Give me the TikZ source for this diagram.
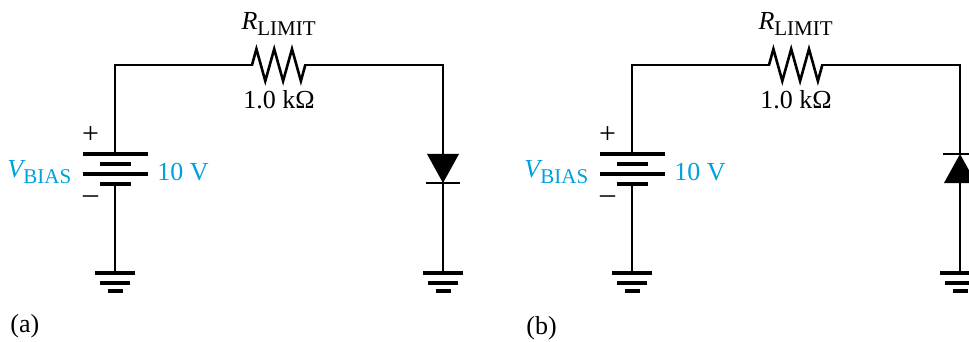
\documentclass[tikz,border=0pt]{standalone}
\usepackage{fontspec}
\setmainfont{Liberation Serif}
\usepackage{tikz}

\definecolor{bluBias}{RGB}{0,160,222}
\newcommand{\pedice}[1]{\raisebox{-3.2pt}{\fontsize{10.5pt}{12pt}\selectfont #1}}

\tikzset{
	filo/.style={line width=1pt, line cap=rect},
	zigzag/.style={line width=1.3pt, line join=miter},
	piastra/.style={line width=2pt},
	barra/.style={line width=1.4pt},
	massa/.style={line width=2pt},
	etichetta/.style={font=\fontsize{13pt}{15pt}\selectfont, inner sep=0pt},
	segno/.style={font=\fontsize{15pt}{17pt}\selectfont, inner sep=0pt},
}

\begin{document}
\begin{tikzpicture}[x=0.5pt, y=-0.5pt]
		\clip (0,0) rectangle (969,342);
		
		% Circuito (a): nodi
		\coordinate (A-R1) at (252,65);
		\coordinate (A-R2) at (305.3,65);
		\coordinate (A-Piu) at (115,154);
		\coordinate (A-Meno) at (115,184);
		\coordinate (A-MassaSx) at (115,273);
		\coordinate (A-Anodo) at (443,154);
		\coordinate (A-Catodo) at (443,183);
		\coordinate (A-MassaDx) at (443,273);
		
		% Circuito (a): collegamenti
		\draw[filo] (A-Piu) |- (A-R1);
		\draw[filo] (A-R2) -| (A-Anodo);
		\draw[filo] (A-Meno) -- (A-MassaSx);
		\draw[filo] (A-Catodo) -- (A-MassaDx);
		
		% Circuito (a): componenti
		\draw[zigzag] (A-R1) -- ++(4.4,-16) -- ++(8.9,32) -- ++(8.9,-32) -- ++(8.9,32) -- ++(8.9,-32) -- ++(8.9,32) -- (A-R2);
		\draw[piastra] (A-Piu) ++(-32.5,0) -- ++(65,0) ++(-48,10) -- ++(31,0) ++(-48,10) -- ++(65,0) ++(-48,10) -- ++(31,0);
		\fill (A-Anodo) ++(-16,0) -- ++(32,0) -- (A-Catodo) -- cycle;
		\draw[barra] (A-Catodo) ++(-17,0) -- ++(34,0);
		\draw[massa] (A-MassaSx) ++(-20,0) -- ++(40,0) ++(-35,9.5) -- ++(30,0) ++(-22.5,8.5) -- ++(15,0);
		\draw[massa] (A-MassaDx) ++(-20,0) -- ++(40,0) ++(-35,9.5) -- ++(30,0) ++(-22.5,8.5) -- ++(15,0);
		
		% Circuito (a): etichette
		\node[etichetta, anchor=base] (A-NomeR) at (278.6,29.5) {{\itshape R}\pedice{LIMIT}};
		\node[etichetta, anchor=base] (A-ValoreR) at (279,109) {1.0 kΩ};
		\node[etichetta, anchor=base west, text=bluBias] (A-ValoreV) at (157,180) {10 V};
		\node[etichetta, anchor=base east, text=bluBias] (A-NomeV) at (71.6,177) {{\itshape V}\pedice{BIAS}};
		\node[segno] (A-SegnoPiu) at (90.7,135) {+};
		\node[segno] (A-SegnoMeno) at (90.7,200) {–};
		\node[etichetta, anchor=west] (A-Titolo) at (10,326) {(a)};
		
		% Circuito (b): nodi
		\coordinate (B-R1) at (769,65);
		\coordinate (B-R2) at (822.3,65);
		\coordinate (B-Piu) at (632,154);
		\coordinate (B-Meno) at (632,184);
		\coordinate (B-MassaSx) at (632,273);
		\coordinate (B-Catodo) at (960,154);
		\coordinate (B-Anodo) at (960,183);
		\coordinate (B-MassaDx) at (960,273);
		
		% Circuito (b): collegamenti
		\draw[filo] (B-Piu) |- (B-R1);
		\draw[filo] (B-R2) -| (B-Catodo);
		\draw[filo] (B-Meno) -- (B-MassaSx);
		\draw[filo] (B-Anodo) -- (B-MassaDx);
		
		% Circuito (b): componenti
		\draw[zigzag] (B-R1) -- ++(4.4,-16) -- ++(8.9,32) -- ++(8.9,-32) -- ++(8.9,32) -- ++(8.9,-32) -- ++(8.9,32) -- (B-R2);
		\draw[piastra] (B-Piu) ++(-32.5,0) -- ++(65,0) ++(-48,10) -- ++(31,0) ++(-48,10) -- ++(65,0) ++(-48,10) -- ++(31,0);
		\fill (B-Anodo) ++(-16,0) -- ++(32,0) -- (B-Catodo) -- cycle;
		\draw[barra] (B-Catodo) ++(-17,0) -- ++(34,0);
		\draw[massa] (B-MassaSx) ++(-20,0) -- ++(40,0) ++(-35,9.5) -- ++(30,0) ++(-22.5,8.5) -- ++(15,0);
		\draw[massa] (B-MassaDx) ++(-20,0) -- ++(40,0) ++(-35,9.5) -- ++(30,0) ++(-22.5,8.5) -- ++(15,0);
		
		% Circuito (b): etichette
		\node[etichetta, anchor=base] (B-NomeR) at (795.6,29.5) {{\itshape R}\pedice{LIMIT}};
		\node[etichetta, anchor=base] (B-ValoreR) at (796,109) {1.0 kΩ};
		\node[etichetta, anchor=base west, text=bluBias] (B-ValoreV) at (674,180) {10 V};
		\node[etichetta, anchor=base east, text=bluBias] (B-NomeV) at (588.6,177) {{\itshape V}\pedice{BIAS}};
		\node[segno] (B-SegnoPiu) at (607.7,135) {+};
		\node[segno] (B-SegnoMeno) at (607.7,200) {–};
		\node[etichetta, anchor=west] (B-Titolo) at (526,328) {(b)};
	\end{tikzpicture}
\end{document}
